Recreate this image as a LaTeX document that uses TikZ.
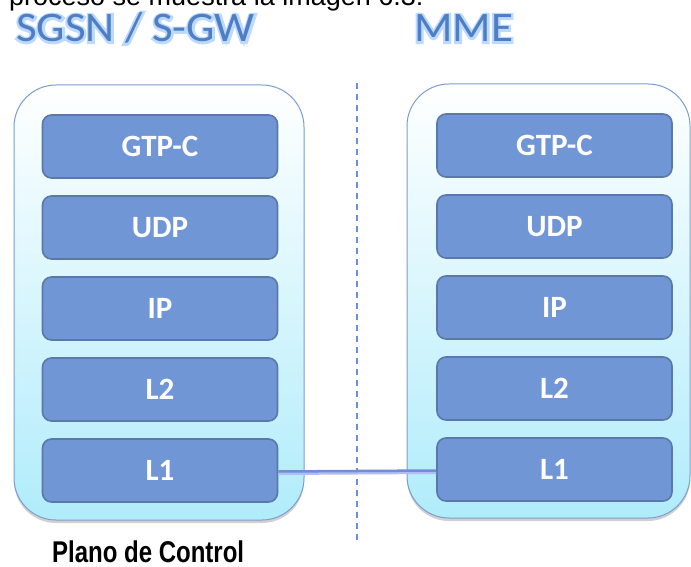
\documentclass[tikz,border=0pt]{standalone}
\usepackage{fontspec}
\setmainfont{Liberation Sans}
\newfontfamily\calfont{Carlito}
\newfontfamily\glowfont[RawFeature={embolden=10}]{Carlito}
\usetikzlibrary{shadows}
\definecolor{layerfill}{HTML}{7096D6}
\definecolor{layerborder}{HTML}{5A78A8}
\definecolor{stackborder}{HTML}{7D9ECE}
\definecolor{stackcyan}{HTML}{B0ECFB}
\definecolor{titleblue}{HTML}{4F7EC4}
\definecolor{titleglow}{HTML}{BCDAFF}
\definecolor{linkblue}{HTML}{6E8ED8}
\definecolor{linklight}{HTML}{B2BEF2}
\tikzset{
  layer/.style={draw=layerborder, line width=1.6pt, fill=layerfill, rounded corners=9pt,
    minimum width=235pt, minimum height=63pt, inner sep=0pt, text=white,
    font=\calfont\bfseries\fontsize{31}{36}\selectfont},
  stackbox/.style={draw=stackborder, line width=1pt, rounded corners=42pt,
    top color=white, middle color=white, bottom color=stackcyan, inner sep=0pt,
    drop shadow={shadow xshift=0pt, shadow yshift=-3pt, opacity=0.3, fill=black!60}},
  titletext/.style={font=\calfont\fontsize{42}{48}\selectfont, inner sep=0pt, anchor=base west, xscale=1.07, transform shape},
  titleglowtext/.style={font=\glowfont\fontsize{42}{48}\selectfont, inner sep=0pt, anchor=base west, xscale=1.07, transform shape},
  link/.style={draw=linkblue, line width=2.5pt},
  linkglow/.style={draw=linklight, line width=3pt},
  divider/.style={draw=linkblue, line width=1.5pt, dash pattern=on 6pt off 5pt},
}
\begin{document}
\begin{tikzpicture}[x=1pt, y=-1pt]
\clip (0,0) rectangle (691,567);
\fill[white] (0,0) rectangle (691,567);

% cropped text line at top
\node[anchor=base west, inner sep=0pt, font=\fontsize{27}{30}\selectfont] (top) at (9,5.5) {proceso se muestra la imagen 6.3:};

% titles with glow
\node[titleglowtext, text=titleglow] (g1) at (16,42) {SGSN / S-GW};
\node[titleglowtext, text=titleglow] (g2) at (414,42) {MME};
\node[titletext, text=titleblue] (t1) at (16,42) {SGSN / S-GW};
\node[titletext, text=titleblue] (t2) at (414,42) {MME};

% outer stacks
\node[stackbox, minimum width=290pt, minimum height=435pt] (sa) at (159,302.5) {};
\node[stackbox, minimum width=283pt, minimum height=434pt] (sb) at (548.5,301) {};

% divider
\coordinate (dtop) at (357,83);
\coordinate (dbot) at (357,542);
\draw[divider] (dtop) -- (dbot);

% layers left
\node[layer] (a1) at (160,146.5) {GTP-C};
\node[layer] (a2) at (160,227.5) {UDP};
\node[layer] (a3) at (160,308.5) {IP};
\node[layer] (a4) at (160,389.5) {L2};
\node[layer] (a5) at (160,470.5) {L1};
% layers right
\node[layer] (b1) at (554.5,145.5) {GTP-C};
\node[layer] (b2) at (554.5,226.5) {UDP};
\node[layer] (b3) at (554.5,307.5) {IP};
\node[layer] (b4) at (554.5,388.5) {L2};
\node[layer] (b5) at (554.5,469.5) {L1};

% link between L1 layers
\draw[linkglow] ([yshift=-3pt]a5.east) -- ([yshift=-3pt]b5.west);
\draw[link] ([yshift=-1pt]a5.east) -- ([yshift=-1pt]b5.west);

% caption
\node[anchor=base west, inner sep=0pt, xscale=0.8, transform shape, font=\bfseries\fontsize{30}{32}\selectfont] (cap) at (52,562) {Plano de Control};
\end{tikzpicture}
\end{document}
